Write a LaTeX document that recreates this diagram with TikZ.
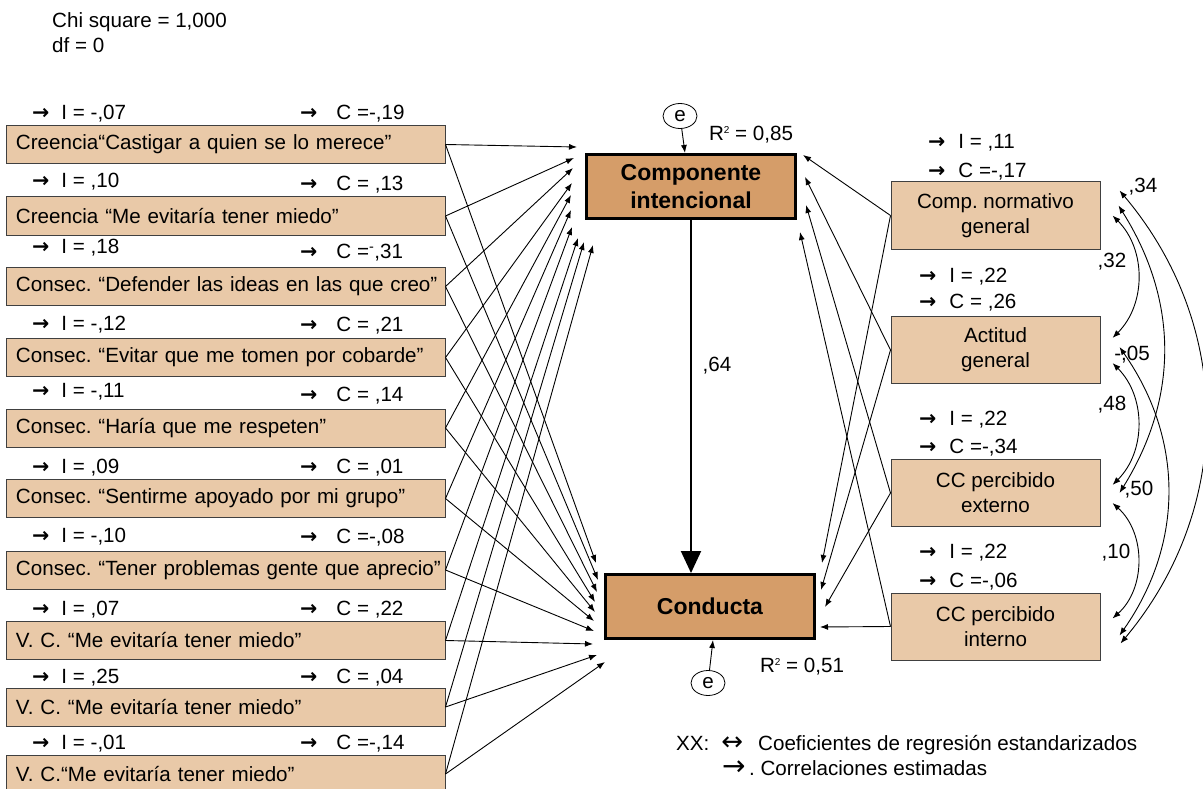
\documentclass[tikz,border=0pt]{standalone}
\usepackage{fontspec}
\setmainfont{Liberation Sans}
\newfontfamily\arrowfont{DejaVu Sans}
\usetikzlibrary{arrows.meta,shapes.geometric}
\definecolor{tanlight}{RGB}{233,201,168}
\definecolor{tandark}{RGB}{213,157,105}
\newcommand{\ra}{{\arrowfont\bfseries →}}
\newcommand{\rsq}{R\raisebox{7pt}{\fontsize{10}{10}\selectfont 2}}
\frenchspacing
\begin{document}
\begin{tikzpicture}[x=1pt, y=-1pt,
    font=\fontsize{20.6}{25}\selectfont,
    lbox/.style={draw=black!75, fill=tanlight, line width=1pt, text width=419pt,
      inner xsep=10pt, inner ysep=0pt, minimum height=38pt, align=left},
    rbox/.style={draw=black!75, fill=tanlight, line width=1pt, minimum width=209pt,
      minimum height=67pt, inner sep=0pt, align=center},
    mbox/.style={draw=black, fill=tandark, line width=3pt, minimum width=209pt,
      minimum height=64pt, inner sep=0pt, align=center,
      font=\fontsize{23}{28}\selectfont\bfseries},
    arr/.style={-{Latex[length=8pt,width=6pt]}, line width=0.9pt},
    corr/.style={{Latex[length=8pt,width=6pt]}-{Latex[length=8pt,width=6pt]}, line width=0.9pt},
    err/.style={draw, ellipse, line width=0.8pt, minimum width=34pt, minimum height=25pt, inner sep=0pt},
    lab/.style={anchor=west, inner sep=0pt}]
  \useasboundingbox (0,0) rectangle (1203,789);

  \node[lab] (chi) at (52,22) {Chi square = 1,000};
  \node[lab] (df) at (52,45) {df = 0};

  % left boxes
  \node[lbox] (b1) at (225.5,144.5) {Creencia“Castigar a quien se lo merece”};
  \node[lbox] (b2) at (225.5,216) {Creencia “Me evitaría tener miedo”};
  \node[lbox] (b3) at (225.5,286.5) {\mbox{Consec. “Defender las ideas en las que creo”}};
  \node[lbox] (b4) at (225.5,357.5) {Consec. “Evitar que me tomen por cobarde”};
  \node[lbox] (b5) at (225.5,428) {Consec. “Haría que me respeten”};
  \node[lbox] (b6) at (225.5,498.5) {Consec. “Sentirme apoyado por mi grupo”};
  \node[lbox] (b7) at (225.5,570) {\mbox{Consec. “Tener problemas gente que aprecio”}};
  \node[lbox] (b8) at (225.5,640.5) {V. C. “Me evitaría tener miedo”};
  \node[lbox] (b9) at (225.5,707) {V. C. “Me evitaría tener miedo”};
  \node[lbox] (b10) at (225.5,774) {V. C.“Me evitaría tener miedo”};

  % I and C values
  \node[lab] (i1) at (32,114) {\ra\hspace{12pt}I = -,07};
  \node[lab] (c1) at (300,114) {\ra\hspace{19pt}C =-,19};
  \node[lab] (i2) at (32,182) {\ra\hspace{12pt}I = ,10};
  \node[lab] (c2) at (300,185) {\ra\hspace{19pt}C = ,13};
  \node[lab] (i3) at (32,248) {\ra\hspace{12pt}I = ,18};
  \node[lab] (c3) at (300,253) {\ra\hspace{19pt}C =\textsuperscript{-},31};
  \node[lab] (i4) at (32,325) {\ra\hspace{12pt}I = -,12};
  \node[lab] (c4) at (300,326) {\ra\hspace{19pt}C = ,21};
  \node[lab] (i5) at (32,392) {\ra\hspace{12pt}I = -,11};
  \node[lab] (c5) at (300,396) {\ra\hspace{19pt}C = ,14};
  \node[lab] (i6) at (32,468) {\ra\hspace{12pt}I = ,09};
  \node[lab] (c6) at (300,468) {\ra\hspace{19pt}C = ,01};
  \node[lab] (i7) at (32,537) {\ra\hspace{12pt}I = -,10};
  \node[lab] (c7) at (300,538) {\ra\hspace{19pt}C =-,08};
  \node[lab] (i8) at (32,610) {\ra\hspace{12pt}I = ,07};
  \node[lab] (c8) at (300,610) {\ra\hspace{19pt}C = ,22};
  \node[lab] (i9) at (32,678) {\ra\hspace{12pt}I = ,25};
  \node[lab] (c9) at (300,678) {\ra\hspace{19pt}C = ,04};
  \node[lab] (i10) at (32,744) {\ra\hspace{12pt}I = -,01};
  \node[lab] (c10) at (300,744) {\ra\hspace{19pt}C =-,14};

  % central boxes
  \node[mbox] (comp) at (691,186.5) {Componente\\intencional};
  \node[mbox] (cond) at (710,606.5) {Conducta};
  \node[err] (e1) at (680,116) {e};
  \node[err] (e2) at (708,683) {e};
  \node (r1) at (751,135) {\rsq{} = 0,85};
  \node (r2) at (802,667) {\rsq{} = 0,51};
  \node (p64) at (717,366) {,64};
  \draw[line width=2pt, -{Triangle[length=22pt,width=20pt]}] (comp.south) -- (comp.south |- cond.north);
  \draw[arr] (e1) -- ([xshift=-6pt]comp.north);
  \draw[arr] (e2) -- ([xshift=3pt]cond.south);

  % right boxes
  \node[rbox] (cnorm) at (995.5,215.5) {Comp. normativo\\general};
  \node[rbox] (act) at (995.5,350) {Actitud\\general};
  \node[rbox] (cext) at (995.5,493) {CC percibido\\externo};
  \node[rbox] (cint) at (995.5,626.5) {CC percibido\\interno};
  \node[lab] (ri1) at (928,143) {\ra\hspace{13pt}I = ,11};
  \node[lab] (rc1) at (928,172) {\ra\hspace{13pt}C =-,17};
  \node[lab] (ri2) at (919,277) {\ra\hspace{13pt}I = ,22};
  \node[lab] (rc2) at (919,303) {\ra\hspace{13pt}C = ,26};
  \node[lab] (ri3) at (919,420) {\ra\hspace{13pt}I = ,22};
  \node[lab] (rc3) at (919,448) {\ra\hspace{13pt}C =-,34};
  \node[lab] (ri4) at (919,553) {\ra\hspace{13pt}I = ,22};
  \node[lab] (rc4) at (919,582) {\ra\hspace{13pt}C =-,06};

  % arrow ends
  \coordinate (ti1) at (577,147);
  \coordinate (ti2) at (574,158);
  \coordinate (ti3) at (573,168);
  \coordinate (ti4) at (572,183);
  \coordinate (ti5) at (571,195);
  \coordinate (ti6) at (571,210);
  \coordinate (ti7) at (572,227);
  \coordinate (ti8) at (578,238);
  \coordinate (ti9) at (584,242);
  \coordinate (ti10) at (593,245);
  \coordinate (tc1) at (596,563);
  \coordinate (tc2) at (598,580);
  \coordinate (tc3) at (597,592);
  \coordinate (tc4) at (595,602);
  \coordinate (tc5) at (595,612);
  \coordinate (tc6) at (594,621);
  \coordinate (tc7) at (594,631);
  \coordinate (tc8) at (593,644);
  \coordinate (tc9) at (597,655);
  \coordinate (tc10) at (605,662);
  \coordinate (si1) at (803,155);
  \coordinate (si2) at (805,177);
  \coordinate (si3) at (806,205);
  \coordinate (si4) at (800,232);
  \coordinate (sc1) at (822,563);
  \coordinate (sc2) at (821,590);
  \coordinate (sc3) at (825,607);
  \coordinate (sc4) at (820,627);

  % left paths
  \draw[arr] (b1.east) -- (ti1);   \draw[arr] (b1.east) -- (tc1);
  \draw[arr] (b2.east) -- (ti2);   \draw[arr] (b2.east) -- (tc2);
  \draw[arr] (b3.east) -- (ti3);   \draw[arr] (b3.east) -- (tc3);
  \draw[arr] (b4.east) -- (ti4);   \draw[arr] (b4.east) -- (tc4);
  \draw[arr] (b5.east) -- (ti5);   \draw[arr] (b5.east) -- (tc5);
  \draw[arr] (b6.east) -- (ti6);   \draw[arr] (b6.east) -- (tc6);
  \draw[arr] (b7.east) -- (ti7);   \draw[arr] (b7.east) -- (tc7);
  \draw[arr] (b8.east) -- (ti8);   \draw[arr] (b8.east) -- (tc8);
  \draw[arr] (b9.east) -- (ti9);   \draw[arr] (b9.east) -- (tc9);
  \draw[arr] (b10.east) -- (ti10); \draw[arr] (b10.east) -- (tc10);

  % right paths
  \draw[arr] (cnorm.west) -- (si1); \draw[arr] (cnorm.west) -- (sc1);
  \draw[arr] (act.west) -- (si2);   \draw[arr] (act.west) -- (sc2);
  \draw[arr] (cext.west) -- (si3);  \draw[arr] (cext.west) -- (sc3);
  \draw[arr] (cint.west) -- (si4);  \draw[arr] (cint.west) -- (sc4);

  % correlations
  \draw[corr] ([shift={(19,-25)}]cnorm.east) to[bend left=40] ([shift={(20,17)}]cint.east);
  \draw[corr] ([shift={(18,-10)}]cnorm.east) to[bend left=32] ([shift={(19,0)}]cext.east);
  \draw[corr] ([shift={(12,0)}]cnorm.east) to[bend left=45] ([shift={(12,-12)}]act.east);
  \draw[corr] ([shift={(19,-3)}]act.east) to[bend left=35] ([shift={(19,9)}]cint.east);
  \draw[corr] ([shift={(12,13)}]act.east) to[bend left=45] ([shift={(12,-8)}]cext.east);
  \draw[corr] ([shift={(12,10)}]cext.east) to[bend left=48] ([shift={(12,-8)}]cint.east);
  \node (k34) at (1143,187) {,34};
  \node (k32) at (1112,262) {,32};
  \node (k05) at (1132,355) {-,05};
  \node (k48) at (1112,405) {,48};
  \node (k50) at (1139,490) {,50};
  \node (k10) at (1116,553) {,10};

  % legend
  \node[lab] (xx) at (676,745) {XX:\hspace{12pt}\smash{\arrowfont\fontsize{26}{20}\selectfont ↔}\hspace{15pt}Coeficientes de regresión estandarizados};
  \node[lab] (ce) at (722,768) {\smash{\arrowfont\fontsize{28}{20}\selectfont →}\,. Correlaciones estimadas};
\end{tikzpicture}
\end{document}
